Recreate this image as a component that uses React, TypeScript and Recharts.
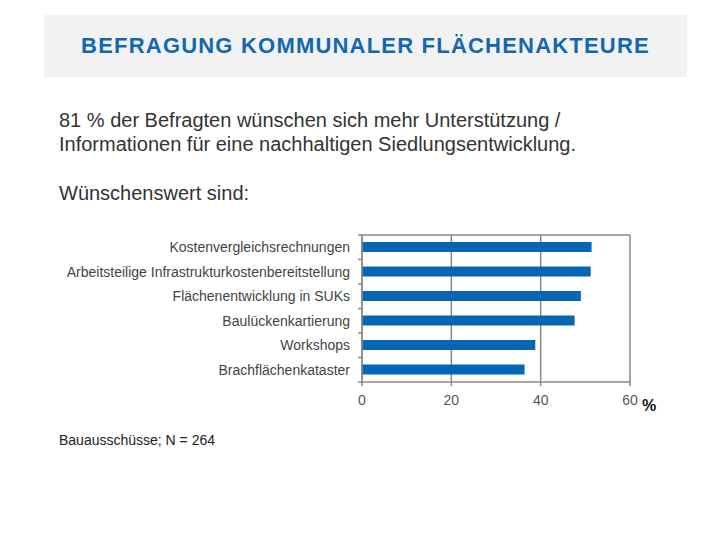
import React from 'react';
import { BarChart, Bar, XAxis, YAxis, CartesianGrid } from 'recharts';

const categories = [
  'Kostenvergleichsrechnungen',
  'Arbeitsteilige Infrastrukturkostenbereitstellung',
  'Flächenentwicklung in SUKs',
  'Baulückenkartierung',
  'Workshops',
  'Brachflächenkataster',
];
const shares = [51.4, 51.2, 49.0, 47.6, 38.8, 36.4];
const xTicks = [0, 20, 40, 60];

const data = categories.map((name, i) => ({ name, value: shares[i] }));

const FONT = '"Liberation Sans", Arial, sans-serif';
const AXIS = '#888888';
const BAR = '#0567b4';

const CHART_TOP = 200;
const MARGIN = { top: 35, right: 90, bottom: 18, left: 0 };
const CHART_H = 230;
const X_AXIS_H = 30;
const PLOT_H = CHART_H - MARGIN.top - MARGIN.bottom - X_AXIS_H;
const BAND = PLOT_H / categories.length;

// category label plus a small tick at the band boundary (like the original)
function CategoryTick(props: any) {
  const { x, y, payload, index } = props;
  const ax = x + 12;
  return (
    <g>
      <line x1={ax - 4} x2={ax} y1={y - BAND / 2} y2={y - BAND / 2} stroke={AXIS} strokeWidth={1.5} />
      {index === categories.length - 1 && (
        <line x1={ax - 4} x2={ax} y1={y + BAND / 2} y2={y + BAND / 2} stroke={AXIS} strokeWidth={1.5} />
      )}
      <text x={x} y={y} dy="0.35em" textAnchor="end" fill="#444444" fontSize={14} fontFamily={FONT}>
        {payload.value}
      </text>
    </g>
  );
}

export default function App() {
  return (
    <div
      style={{
        position: 'absolute',
        left: 0,
        top: 0,
        width: 720,
        height: 540,
        background: '#ffffff',
        fontFamily: FONT,
        overflow: 'hidden',
      }}
    >
      <div
        style={{
          position: 'absolute',
          left: 44,
          top: 15,
          width: 643,
          height: 62,
          background: '#f2f2f2',
          display: 'flex',
          alignItems: 'center',
          justifyContent: 'center',
          color: '#1268b0',
          fontSize: 22,
          fontWeight: 'bold',
          letterSpacing: 1.2,
        }}
      >
        BEFRAGUNG KOMMUNALER FLÄCHENAKTEURE
      </div>
      <div
        style={{
          position: 'absolute',
          left: 59,
          top: 109,
          fontSize: 20,
          lineHeight: '23.5px',
          color: '#333333',
        }}
      >
        81 % der Befragten wünschen sich mehr Unterstützung /<br />
        Informationen für eine nachhaltigen Siedlungsentwicklung.
      </div>
      <div
        style={{
          position: 'absolute',
          left: 59,
          top: 182,
          fontSize: 20,
          lineHeight: '23.5px',
          color: '#333333',
        }}
      >
        Wünschenswert sind:
      </div>
      <div style={{ position: 'absolute', left: 0, top: CHART_TOP }}>
        <BarChart
          width={720}
          height={CHART_H}
          data={data}
          layout="vertical"
          margin={MARGIN}
          barSize={10}
        >
          <CartesianGrid
            stroke={AXIS}
            strokeWidth={1.5}
            horizontalCoordinatesGenerator={(p: any) => [p.offset.top]}
          />
          <XAxis
            type="number"
            domain={[0, 60]}
            ticks={xTicks}
            height={X_AXIS_H}
            stroke={AXIS}
            strokeWidth={1.5}
            tickSize={4}
            tickMargin={9}
            tick={{ fill: '#555555', fontSize: 14, fontFamily: FONT }}
          />
          <YAxis
            type="category"
            dataKey="name"
            width={362}
            stroke={AXIS}
            strokeWidth={1.5}
            tickLine={false}
            tickSize={4}
            tickMargin={8}
            tick={<CategoryTick />}
            interval={0}
          />
          <Bar dataKey="value" fill={BAR} isAnimationActive={false} />
        </BarChart>
      </div>
      <div
        style={{
          position: 'absolute',
          left: 642,
          top: 397,
          fontSize: 16,
          fontWeight: 'bold',
          color: '#111111',
        }}
      >
        %
      </div>
      <div style={{ position: 'absolute', left: 59, top: 432, fontSize: 14, color: '#222222' }}>
        Bauausschüsse; N = 264
      </div>
    </div>
  );
}
